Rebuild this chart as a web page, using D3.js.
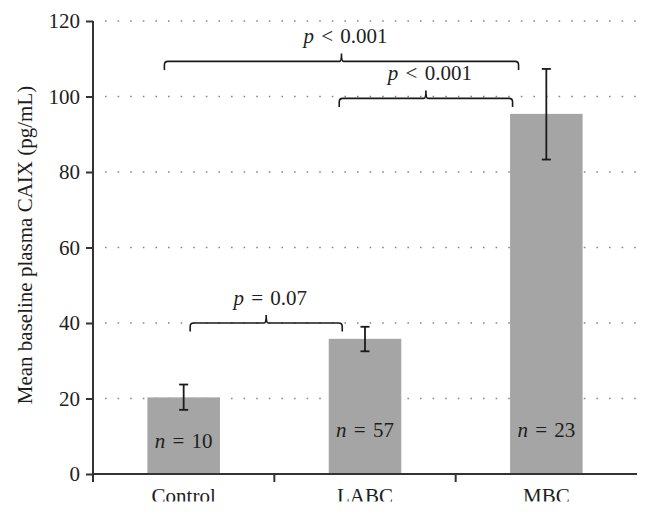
<!DOCTYPE html>
<html><head><meta charset="utf-8">
<script src="https://cdn.jsdelivr.net/npm/d3@7"></script>
<style>body{margin:0;background:#fff}svg{display:block}text{font-family:"Liberation Serif","Times New Roman",serif;fill:#1e1e1e}</style>
</head><body>
<script>
const categories = ["Control", "LABC", "MBC"];
const means = [20.3, 35.8, 95.4];
const errLow = [17.0, 32.5, 83.3];
const errHigh = [23.7, 39.0, 107.3];
const nLabels = ["10", "57", "23"];
const yTicks = [0, 20, 40, 60, 80, 100, 120];
const comparisons = [
  {from: 0, to: 1, level: 40, text: "= 0.07"},
  {from: 1, to: 2, level: 99.5, text: "< 0.001"},
  {from: 0, to: 2, level: 109.3, text: "< 0.001"}
];

const W = 651, H = 515, FS = 21;
const svg = d3.select("body").append("svg").attr("width", W).attr("height", H);
const x0 = 93, x1 = 637;
const x = d3.scaleBand().domain(categories).range([x0, x1]).paddingInner(0.6).paddingOuter(0.3);
const y = d3.scaleLinear().domain([0, 120]).range([474, 21]);

// gridlines
svg.append("g").selectAll("line").data(yTicks.filter(d => d > 0)).join("line")
  .attr("x1", x0 + 12).attr("x2", x1).attr("y1", d => y(d)).attr("y2", d => y(d))
  .attr("stroke", "#888").attr("stroke-width", 1.6).attr("stroke-dasharray", "1.6,11")
  .attr("stroke-linecap", "butt");

// bars
svg.append("g").selectAll("rect").data(categories).join("rect")
  .attr("x", d => x(d)).attr("width", x.bandwidth())
  .attr("y", (d, i) => y(means[i])).attr("height", (d, i) => y(0) - y(means[i]))
  .attr("fill", "#a5a5a5");

// error bars
const eb = svg.append("g").attr("stroke", "#1a1a1a").attr("stroke-width", 1.8);
categories.forEach((c, i) => {
  const cx = x(c) + x.bandwidth() / 2;
  eb.append("line").attr("x1", cx).attr("x2", cx).attr("y1", y(errLow[i])).attr("y2", y(errHigh[i]));
  [errLow[i], errHigh[i]].forEach(v => eb.append("line").attr("x1", cx - 4.5).attr("x2", cx + 4.5).attr("y1", y(v)).attr("y2", y(v)));
});

// n labels
categories.forEach((c, i) => {
  const cx = x(c) + x.bandwidth() / 2;
  const t = svg.append("text").attr("x", cx).attr("y", i === 0 ? 447.5 : 436.5)
    .attr("text-anchor", "middle").attr("font-size", FS).attr("word-spacing", 2);
  t.append("tspan").attr("font-style", "italic").text("n");
  t.append("tspan").text(" = " + nLabels[i]);
});

// brackets
comparisons.forEach(cmp => {
  let xa, xb;
  if (cmp.from === 0 && cmp.to === 1) { xa = x(categories[0]) + x.bandwidth() / 2 + 6.5; xb = x(categories[1]) + 13.5; }
  else if (cmp.from === 1) { xa = x(categories[1]) + 10.5; xb = x(categories[2]) + 2.5; }
  else { xa = x(categories[0]) + 17; xb = x(categories[2]) + 8.5; }
  const yl = y(cmp.level);
  const xm = (xa + xb) / 2;
  const r = 3.5, drop = 8.5, up = 8;
  const p = `M${xa},${yl + drop} L${xa},${yl + r} Q${xa},${yl} ${xa + r},${yl} L${xm - 2},${yl} Q${xm},${yl} ${xm},${yl - up}` +
    ` Q${xm},${yl} ${xm + 2},${yl} L${xb - r},${yl} Q${xb},${yl} ${xb},${yl + r} L${xb},${yl + drop}`;
  svg.append("path").attr("d", p).attr("fill", "none").attr("stroke", "#1a1a1a").attr("stroke-width", 1.6);
  const t = svg.append("text").attr("x", xm + 4).attr("y", yl - 18.5).attr("text-anchor", "middle")
    .attr("font-size", FS).attr("word-spacing", 2);
  t.append("tspan").attr("font-style", "italic").text("p");
  t.append("tspan").text(" " + cmp.text);
});

// y axis
const yAxis = d3.axisLeft(y).tickValues(yTicks).tickSize(7).tickPadding(6).tickFormat(d3.format("d"));
const ga = svg.append("g").attr("transform", `translate(${x0},0)`).call(yAxis);
ga.select(".domain").attr("d", `M0,${y(0)}V${y(120)}`).attr("stroke", "#333").attr("stroke-width", 2);
ga.selectAll(".tick line").attr("stroke", "#333").attr("stroke-width", 2);
ga.selectAll(".tick text").attr("font-size", FS).attr("font-family", "Liberation Serif, serif").attr("fill", "#1e1e1e");

// x axis
const xg = svg.append("g");
xg.append("line").attr("x1", x0).attr("x2", x1).attr("y1", y(0)).attr("y2", y(0)).attr("stroke", "#333").attr("stroke-width", 2);
const bounds = [x0].concat(categories.slice(1).map(c => x(c) - x.step() * x.paddingInner() / 2));
xg.selectAll("line.t").data(bounds).join("line").attr("class", "t")
  .attr("x1", d => d).attr("x2", d => d).attr("y1", y(0)).attr("y2", y(0) + 8).attr("stroke", "#333").attr("stroke-width", 2);
xg.selectAll("text").data(categories).join("text")
  .attr("x", d => x(d) + x.bandwidth() / 2).attr("y", 502.5).attr("text-anchor", "middle").attr("font-size", FS).text(d => d);
svg.append("rect").attr("x", 0).attr("y", 501.5).attr("width", W).attr("height", H - 501.5).attr("fill", "#fff");

// y label
svg.append("text").attr("transform", `translate(32,245) rotate(-90)`).attr("text-anchor", "middle")
  .attr("font-size", FS).text("Mean baseline plasma CAIX (pg/mL)");
</script>
</body></html>
